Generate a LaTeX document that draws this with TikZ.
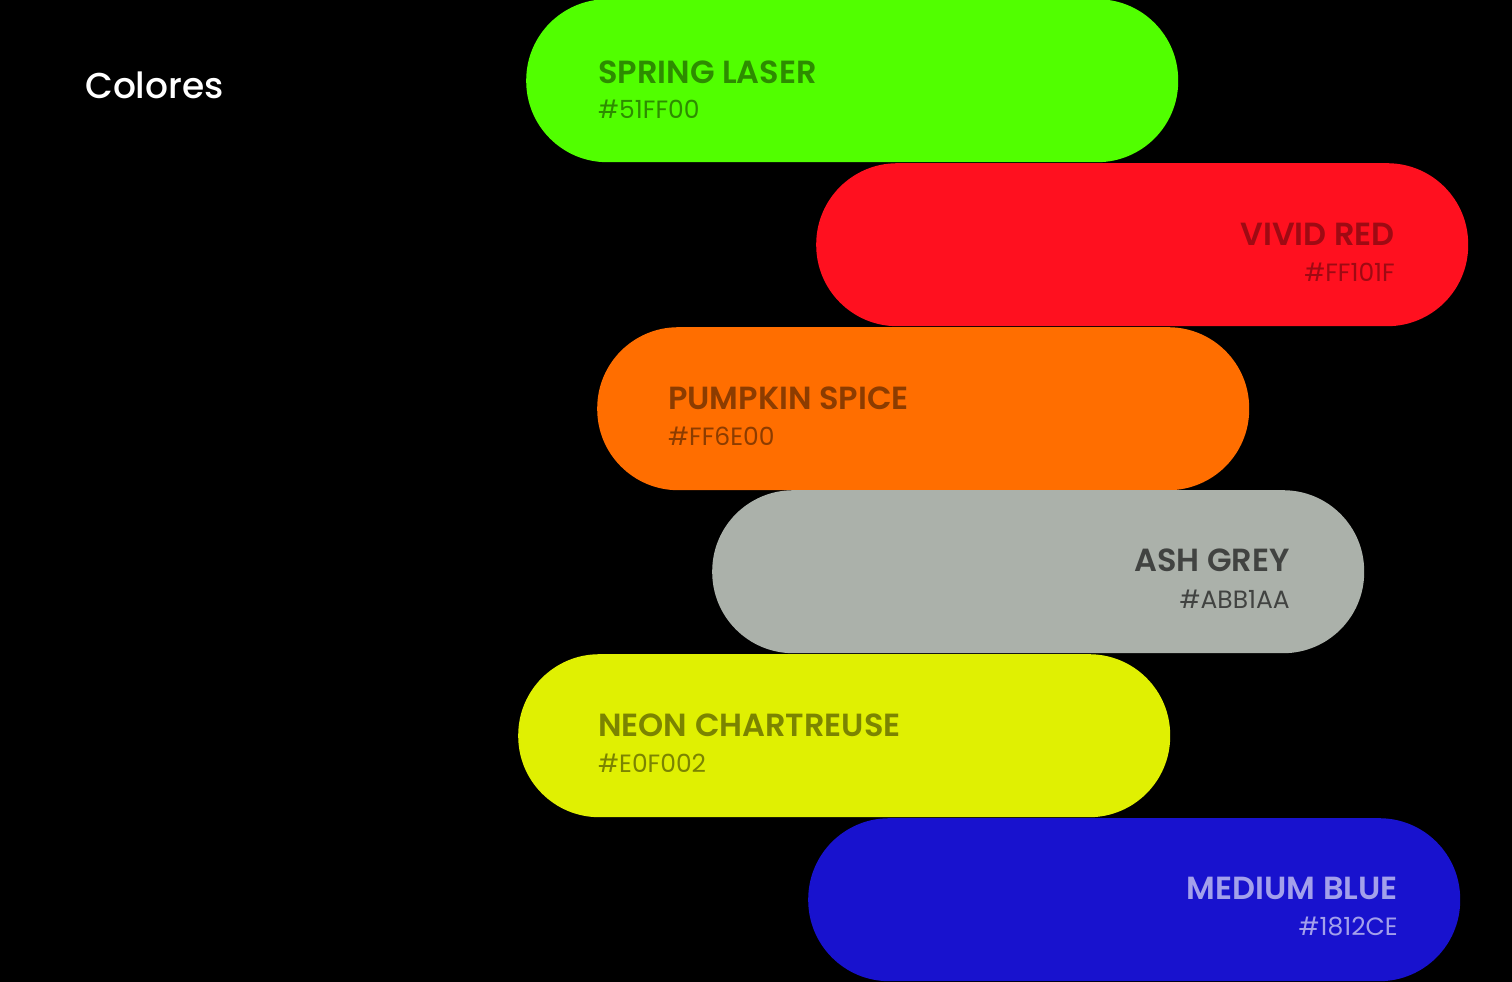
\documentclass[tikz,border=0pt]{standalone}
\usepackage{fontspec}
\setmainfont{Poppins}[BoldFont={Poppins SemiBold}]
\newfontfamily\titlefont{Poppins Medium}
\usepackage{tikz}
\definecolor{white}{rgb}{1.0, 1.0, 1.0}
\definecolor{black}{rgb}{0.0, 0.0, 0.0}
\definecolor{laser}{HTML}{51FF00}
\definecolor{vivid}{HTML}{FF101F}
\definecolor{pumpkin}{HTML}{FF6E00}
\definecolor{ash}{HTML}{ABB1AA}
\definecolor{neon}{HTML}{E0F002}
\definecolor{mblue}{HTML}{1812CE}
\tikzstyle{pill}=[rounded corners=81pt,minimum width=652pt,minimum height=163pt,inner sep=0pt]
\tikzstyle{cname}=[inner sep=0pt,font=\fontsize{32}{32}\selectfont\bfseries]
\tikzstyle{chex}=[inner sep=0pt,font=\fontsize{25}{25}\selectfont]

\begin{document}
\begin{tikzpicture}[x=1pt,y=-1pt]
        \fill [black] (0, 0) rectangle (1512, 982);
        \useasboundingbox (0, 0) rectangle (1512, 982);

        \node [anchor=base west, inner sep=0pt, white, font=\titlefont\fontsize{36}{36}\selectfont] (title) at (85, 99) {Colores};

        \node [style = pill, fill=laser, anchor=north west] (laser) at (526, -1) {};
        \node [style = pill, fill=vivid, anchor=north west] (vivid) at (816, 163) {};
        \node [style = pill, fill=pumpkin, anchor=north west] (pumpkin) at (597, 327) {};
        \node [style = pill, fill=ash, anchor=north west] (ash) at (712, 490) {};
        \node [style = pill, fill=neon, anchor=north west] (neon) at (518, 654) {};
        \node [style = pill, fill=mblue, anchor=north west] (mblue) at (808, 818) {};

        \node [style = cname, anchor=base west, laser!55!black] (laser-name) at (598, 84) {SPRING LASER};
        \node [style = chex, anchor=base west, laser!55!black] (laser-hex) at (598, 118) {\#51FF00};
        \node [style = cname, anchor=base east, vivid!62!black] (vivid-name) at (1395, 245) {VIVID RED};
        \node [style = chex, anchor=base east, vivid!62!black] (vivid-hex) at (1395, 281) {\#FF101F};
        \node [style = cname, anchor=base west, pumpkin!55!black] (pumpkin-name) at (668, 409) {PUMPKIN SPICE};
        \node [style = chex, anchor=base west, pumpkin!55!black] (pumpkin-hex) at (668, 445) {\#FF6E00};
        \node [style = cname, anchor=base east, ash!38!black] (ash-name) at (1290, 571) {ASH GREY};
        \node [style = chex, anchor=base east, ash!38!black] (ash-hex) at (1290, 608) {\#ABB1AA};
        \node [style = cname, anchor=base west, neon!55!black] (neon-name) at (598, 736) {NEON CHARTREUSE};
        \node [style = chex, anchor=base west, neon!55!black] (neon-hex) at (598, 772) {\#E0F002};
        \node [style = cname, anchor=base east, mblue!40!white] (mblue-name) at (1398, 899) {MEDIUM BLUE};
        \node [style = chex, anchor=base east, mblue!40!white] (mblue-hex) at (1398, 935) {\#1812CE};
    \end{tikzpicture}
\end{document}
